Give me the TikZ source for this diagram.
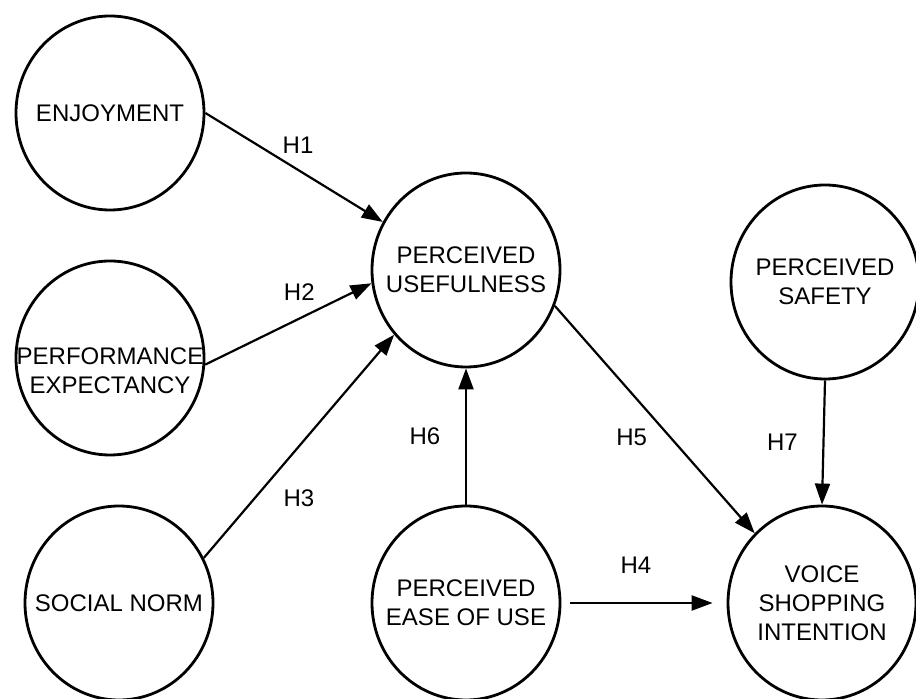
\documentclass[tikz,border=0pt]{standalone}
\usepackage{fontspec}
\setmainfont{Liberation Sans}
\usetikzlibrary{arrows.meta,shapes.geometric}

\begin{document}
\begin{tikzpicture}[x=0.5pt, y=-0.5pt, ->, >={Triangle[length=10.5pt,width=7.5pt]}, line width=1.1pt,
		every node/.style={font=\fontsize{12}{14.5}\selectfont},
		construct/.style={ellipse, draw, line width=1.4pt, minimum width=94pt, minimum height=97pt, inner sep=0pt,
			label={[align=center]center:#1}}]
				\useasboundingbox (0,0) rectangle (916,699);

				\node[construct=ENJOYMENT]                    (E)   at (110,113) {};
				\node[construct=, label={[yshift=-6.5pt,align=center]center:PERFORMANCE\\EXPECTANCY}] (PE) at (110,358) {};
				\node[construct={SOCIAL NORM}]                (SN)  at (119,603) {};
				\node[construct={PERCEIVED\\USEFULNESS}]      (PU)  at (466,270) {};
				\node[construct={PERCEIVED\\EASE OF USE}]     (PEU) at (466,603) {};
				\node[construct={PERCEIVED\\SAFETY}]          (PS)  at (825,282) {};
				\node[construct={VOICE\\SHOPPING\\INTENTION}] (VSI) at (822,603) {};

				\path	(E.east)	edge node[xshift=2pt,yshift=11pt] {H1} (PU.150)
						(PE.-4)		edge node[xshift=5.5pt,yshift=16pt] {H2} (PU.188)
						(SN.28)		edge node[xshift=0pt,yshift=-26pt] {H3} (PU.222)
						(PEU.north)	edge node[xshift=-20.5pt] {H6} (PU.south)
						(PU.-22)	edge node[xshift=-11.5pt,yshift=-9pt] {H5} (VSI.134)
						(PS.south)	edge node[xshift=-20.5pt] {H7} (VSI.north)
						(PEU.east)	edge[shorten <=4.5pt, shorten >=7pt] node[xshift=-4pt,yshift=19pt] {H4} (VSI.west);

			\end{tikzpicture}
\end{document}
